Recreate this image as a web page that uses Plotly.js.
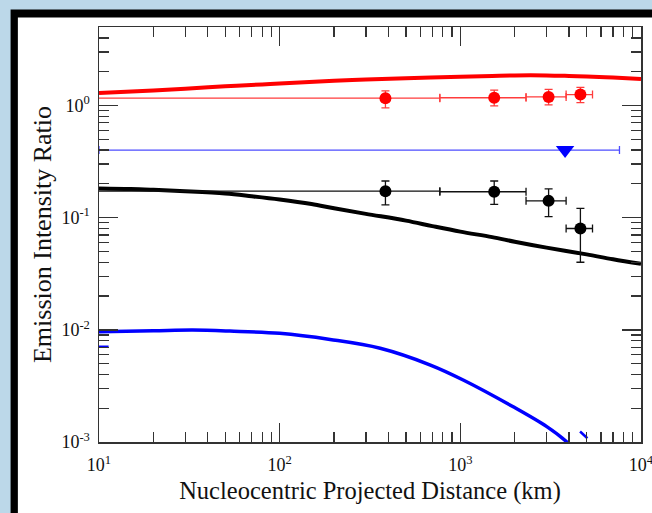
<!DOCTYPE html>
<html>
<head>
<meta charset="utf-8">
<script src="https://cdn.plot.ly/plotly-3.0.1.min.js"></script>
<style>
  html, body { margin: 0; padding: 0; background: #bcd8e9; }
  #chart { width: 652px; height: 513px; }
</style>
</head>
<body>
<div id="chart"></div>
<script>
// ---- data ----
// model curves
const redModelX = [10, 20, 30, 50, 80, 100, 200, 300, 500, 1000, 1500, 2000, 3000, 4000, 5000, 7000, 10000];
const redModelY = [1.29, 1.36, 1.41, 1.48, 1.54, 1.57, 1.66, 1.70, 1.75, 1.80, 1.83, 1.85, 1.85, 1.83, 1.81, 1.77, 1.72];

const blackModelX = [10, 15, 20, 30, 50, 70, 100, 150, 200, 300, 500, 700, 1000, 1500, 2000, 3000, 5000, 7000, 10000];
const blackModelY = [0.182, 0.180, 0.177, 0.172, 0.164, 0.155, 0.145, 0.132, 0.121, 0.108, 0.094, 0.084, 0.075, 0.067, 0.061, 0.054, 0.047, 0.0425, 0.0387];

const blueModelX = [10, 20, 33, 53, 100, 190, 360, 683, 1037, 1950, 3010, 3890, 4200];
const blueModelY = [0.0096, 0.0098, 0.00995, 0.00975, 0.0093, 0.0082, 0.00684, 0.00485, 0.00357, 0.00207, 0.00137, 0.0010, 0.00088];

// small stray blue fragments visible in the picture
const blueFragX = [10, 11.3, null, 4600, 5050];
const blueFragY = [0.00706, 0.00706, null, 0.00124, 0.00108];

// observations (bin centres and half-widths, km)
const obsX = [385, 1540, 3080, 4620];
const obsXErr = [385, 770, 770, 770];

const redObsY = [1.16, 1.17, 1.19, 1.25];
const redErrPlus = [0.19, 0.20, 0.20, 0.20];
const redErrMinus = [0.21, 0.18, 0.18, 0.19];

const blackObsY = [0.172, 0.170, 0.141, 0.080];
const blackErrPlus = [0.040, 0.042, 0.039, 0.041];
const blackErrMinus = [0.042, 0.039, 0.039, 0.040];

// upper limit (blue)
const limitX = [3800];
const limitXErrPlus = [3800];
const limitXErrMinus = [3790];
const limitY = [0.40];

// tick labels
const xTickVals = [10, 100, 1000, 10000];
const xTickText = ['10<sup>1</sup>', '10<sup>2</sup>', '10<sup>3</sup>', '10<sup>4</sup>'];
const yTickVals = [0.001, 0.01, 0.1, 1];
const yTickText = ['10<sup>-3</sup>', '10<sup>-2</sup>', '10<sup>-1</sup>', '10<sup>0</sup>'];

// ---- layout geometry ----
const W = 652, H = 513;
const M = {l: 98.5, r: 11, t: 26.7, b: 71};
const PW = W - M.l - M.r, PH = H - M.t - M.b;
const px2x = p => (p - M.l) / PW;
const py2y = p => (H - M.b - p) / PH;

function minorVals(lo, hi) {
  const v = [];
  for (let d = lo; d < hi; d++) for (let k = 2; k <= 9; k++) v.push(k * Math.pow(10, d));
  return v;
}

const serif = 'Liberation Serif, Times New Roman, serif';
const axisCommon = {
  type: 'log',
  showline: true, linecolor: '#333', linewidth: 1.5,
  mirror: 'allticks',
  ticks: 'inside', ticklen: 19, tickwidth: 1.5, tickcolor: '#333',
  showgrid: false, zeroline: false,
  tickmode: 'array',
  ticklabeloverflow: 'allow',
  automargin: false,
  tickfont: {family: serif, size: 18, color: '#111'},
};

const traces = [
  {x: blueModelX, y: blueModelY, mode: 'lines', line: {color: '#0000ff', width: 3.5, shape: 'spline', smoothing: 1}, showlegend: false, hoverinfo: 'skip'},
  {x: blueFragX, y: blueFragY, mode: 'lines', line: {color: '#0000ff', width: 2.5}, showlegend: false, hoverinfo: 'skip', connectgaps: false},
  {x: blackModelX, y: blackModelY, mode: 'lines', line: {color: '#000000', width: 4, shape: 'spline', smoothing: 1}, showlegend: false, hoverinfo: 'skip'},
  {x: redModelX, y: redModelY, mode: 'lines', line: {color: '#ff0000', width: 4, shape: 'spline', smoothing: 1}, showlegend: false, hoverinfo: 'skip'},
  {x: limitX, y: limitY, mode: 'markers',
   marker: {symbol: 'triangle-down', size: 16, color: '#0000ff'},
   error_x: {type: 'data', array: limitXErrPlus, arrayminus: limitXErrMinus, color: '#4d4dff', thickness: 1.3, width: 4},
   showlegend: false},
  {x: obsX, y: redObsY, mode: 'markers',
   marker: {symbol: 'circle', size: 12, color: '#ff0000'},
   error_x: {type: 'data', array: obsXErr, color: '#ff3c3c', thickness: 1.3, width: 4},
   error_y: {type: 'data', array: redErrPlus, arrayminus: redErrMinus, color: '#ff3c3c', thickness: 1.3, width: 4},
   showlegend: false},
  {x: obsX, y: blackObsY, mode: 'markers',
   marker: {symbol: 'circle', size: 12, color: '#000000'},
   error_x: {type: 'data', array: obsXErr, color: '#111', thickness: 1.3, width: 4},
   error_y: {type: 'data', array: blackErrPlus, arrayminus: blackErrMinus, color: '#111', thickness: 1.3, width: 4},
   showlegend: false},
];

const layout = {
  width: W, height: H,
  margin: M,
  paper_bgcolor: '#bcd8e9',
  plot_bgcolor: '#ffffff',
  showlegend: false,
  xaxis: Object.assign({}, axisCommon, {
    range: [1, 4],
    tickvals: xTickVals, ticktext: xTickText,
    ticklabelstandoff: 6,
    minor: {ticks: 'inside', ticklen: 10, tickwidth: 1.3, tickcolor: '#333', tickmode: 'array', tickvals: minorVals(1, 4)},
    title: {text: 'Nucleocentric Projected Distance (km)', font: {family: serif, size: 24.5, color: '#111'}, standoff: 8},
  }),
  yaxis: Object.assign({}, axisCommon, {
    range: [-3, Math.log10(5)],
    tickvals: yTickVals, ticktext: yTickText,
    ticklabelstandoff: 4,
    minor: {ticks: 'inside', ticklen: 10, tickwidth: 1.3, tickcolor: '#333', tickmode: 'array', tickvals: minorVals(-3, 1)},
    title: {text: 'Emission Intensity Ratio', font: {family: serif, size: 26, color: '#111'}, standoff: 2},
  }),
  shapes: [
    {type: 'rect', xref: 'paper', yref: 'paper', layer: 'below',
     x0: px2x(10), x1: px2x(W + 50), y0: py2y(H + 50), y1: py2y(9.3),
     fillcolor: '#000000', line: {width: 0}},
    {type: 'rect', xref: 'paper', yref: 'paper', layer: 'below',
     x0: px2x(17.3), x1: px2x(W + 50), y0: py2y(H + 50), y1: py2y(17.3),
     fillcolor: '#ffffff', line: {width: 0}},
  ],
};

Plotly.newPlot('chart', traces, layout, {displayModeBar: false, staticPlot: true});
</script>
</body>
</html>
